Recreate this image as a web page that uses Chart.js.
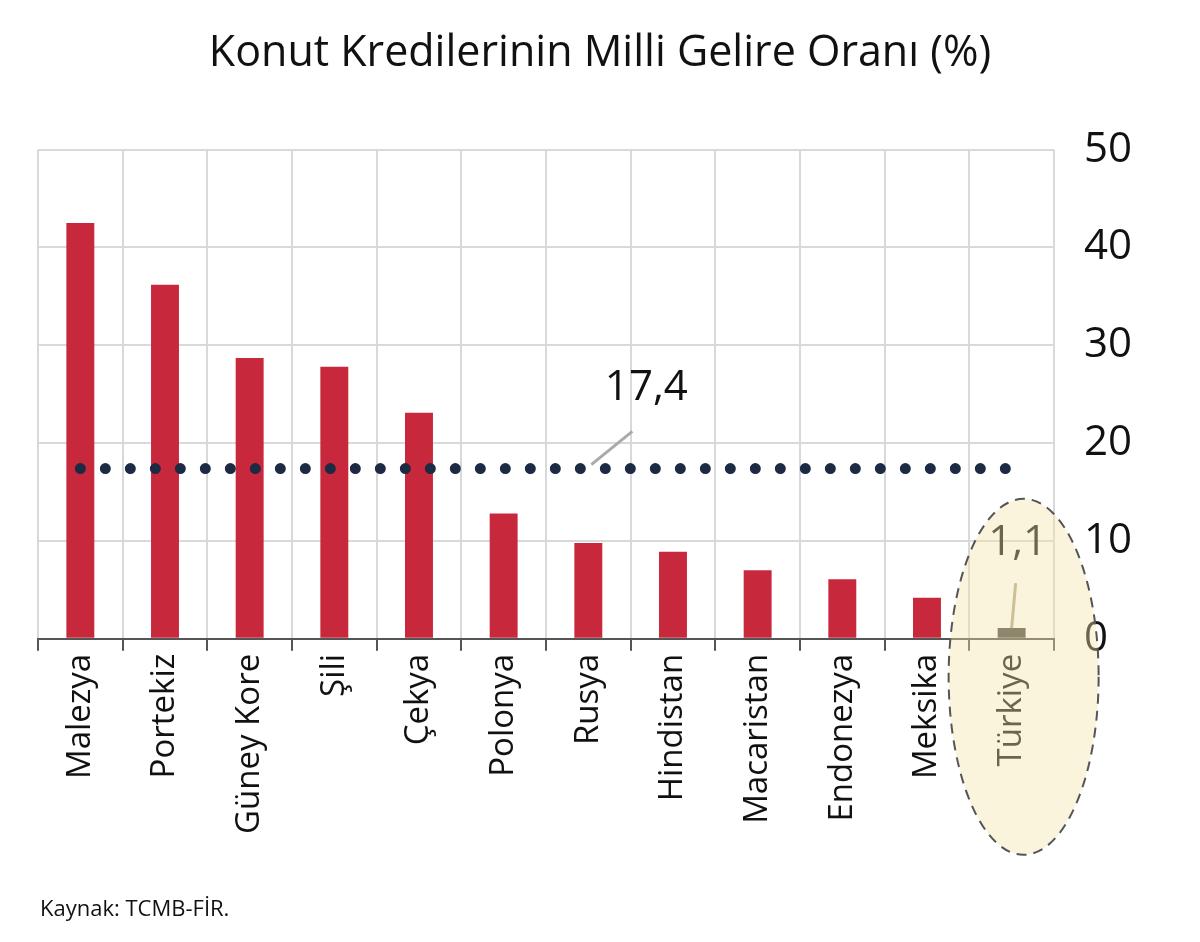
<!DOCTYPE html>
<html>
<head>
<meta charset="utf-8">
<script src="https://cdn.jsdelivr.net/npm/chart.js@4"></script>
<style>
  body { margin: 0; background: #fff; }
  #wrap { width: 1200px; height: 942px; }
</style>
</head>
<body>
<div id="wrap"><canvas id="chart"></canvas></div>
<script>
const countries = ['Malezya', 'Portekiz', 'Güney Kore', 'Şili', 'Çekya', 'Polonya', 'Rusya', 'Hindistan', 'Macaristan', 'Endonezya', 'Meksika', 'Türkiye'];
const ratios = [42.5, 36.2, 28.7, 27.8, 23.1, 12.8, 9.8, 8.9, 7.0, 6.1, 4.2, 1.1];
const average = countries.map(() => 17.4);
const yTicks = [0, 10, 20, 30, 40, 50];

const barColors = countries.map(c => c === 'Türkiye' ? '#4a4a44' : '#c8283c');

// Annotations: leader lines, value labels and the highlight ellipse
const notes = {
  id: 'notes',
  afterDatasetsDraw(chart) {
    const { ctx, scales: { x, y } } = chart;
    ctx.save();
    ctx.font = '42px "Open Sans", sans-serif';
    ctx.fillStyle = '#111';
    ctx.textAlign = 'center';
    ctx.textBaseline = 'middle';

    // 17,4 label
    const ax = x.getPixelForValue(6);
    ctx.strokeStyle = '#aaa';
    ctx.lineWidth = 3;
    ctx.beginPath();
    ctx.moveTo(ax + 3, y.getPixelForValue(17.4) - 4);
    ctx.lineTo(ax + 44, y.getPixelForValue(21.2));
    ctx.stroke();
    ctx.fillText('17,4', ax + 58, y.getPixelForValue(25.6));

    // 1,1 label
    const tx = x.getPixelForValue(11);
    ctx.strokeStyle = '#b0a890';
    ctx.beginPath();
    ctx.moveTo(tx, y.getPixelForValue(1.1));
    ctx.lineTo(tx + 4, y.getPixelForValue(5.7));
    ctx.stroke();
    ctx.fillText('1,1', tx + 6, y.getPixelForValue(9.8));

    // highlight ellipse
    ctx.beginPath();
    ctx.ellipse(tx + 12, y.getPixelForValue(0) + 38, 75, 178, 0, 0, Math.PI * 2);
    ctx.fillStyle = 'rgba(245, 228, 170, 0.4)';
    ctx.fill();
    ctx.setLineDash([10, 7]);
    ctx.strokeStyle = '#555';
    ctx.lineWidth = 2;
    ctx.stroke();

    // source
    ctx.setLineDash([]);
    ctx.font = '22px "Open Sans", sans-serif';
    ctx.fillStyle = '#111';
    ctx.textAlign = 'left';
    ctx.fillText('Kaynak: TCMB-FİR.', 40, 910);
    ctx.restore();
  }
};

new Chart(document.getElementById('chart'), {
  data: {
    labels: countries,
    datasets: [
      {
        type: 'line',
        data: average,
        borderColor: '#1c2a44',
        borderWidth: 11,
        borderDash: [0, 25],
        borderCapStyle: 'round',
        pointRadius: 0,
        order: 0
      },
      {
        type: 'bar',
        data: ratios,
        backgroundColor: barColors,
        barPercentage: 0.33,
        categoryPercentage: 1,
        order: 1
      }
    ]
  },
  options: {
    responsive: true,
    maintainAspectRatio: false,
    animation: false,
    layout: { padding: { left: 38, right: 38, top: 0, bottom: 105 } },
    plugins: {
      legend: { display: false },
      tooltip: { enabled: false },
      title: {
        display: true,
        text: 'Konut Kredilerinin Milli Gelire Oranı (%)',
        color: '#111',
        font: { family: '"Open Sans", sans-serif', size: 43, weight: 'normal' },
        padding: { top: 28, bottom: 70 }
      }
    },
    scales: {
      x: {
        offset: true,
        grid: { offset: true, color: '#d9d9d9', lineWidth: 2, drawTicks: true, tickLength: 12, tickColor: '#555' },
        border: { color: '#555', width: 2 },
        ticks: {
          color: '#111',
          minRotation: 90,
          maxRotation: 90,
          autoSkip: false,
          font: { family: '"Open Sans", sans-serif', size: 33 }
        }
      },
      y: {
        position: 'right',
        min: 0,
        max: 50,
        afterBuildTicks: axis => { axis.ticks = yTicks.map(v => ({ value: v })); },
        grid: { color: '#d9d9d9', lineWidth: 2, drawTicks: false },
        border: { display: false },
        ticks: {
          color: '#111',
          padding: 30,
          font: { family: '"Open Sans", sans-serif', size: 42 }
        }
      }
    }
  },
  plugins: [notes]
});
</script>
</body>
</html>
